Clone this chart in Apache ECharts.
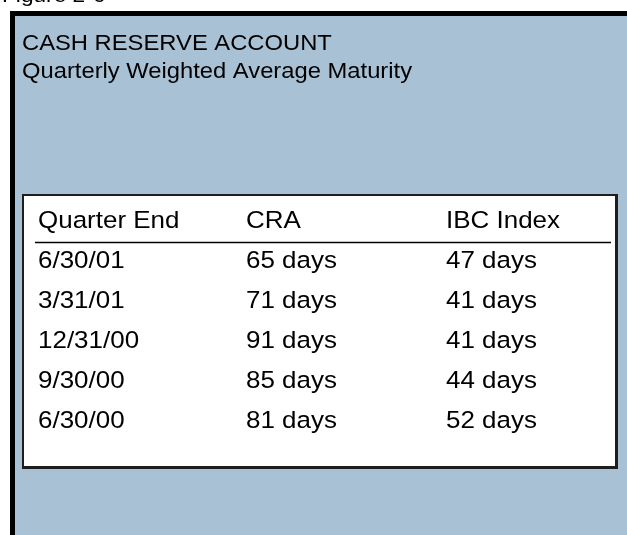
<!DOCTYPE html>
<html>
<head>
<meta charset="utf-8">
<script src="https://cdn.jsdelivr.net/npm/echarts@6.0.0/dist/echarts.min.js"></script>
<style>
  html, body { margin: 0; padding: 0; background: #fff; }
  #chart { width: 627px; height: 535px; }
</style>
</head>
<body>
<div id="chart"></div>
<script>
// table content
const headers = ['Quarter End', 'CRA', 'IBC Index'];
const quarters = ['6/30/01', '3/31/01', '12/31/00', '9/30/00', '6/30/00'];
const craDays = [65, 71, 91, 85, 81];
const ibcDays = [47, 41, 41, 44, 52];

const FONT = '"Liberation Sans", Arial, sans-serif';
const colShift = [0, 4, 0];

// build cells: [col, row, text]; row 0 is the header
const cells = [];
headers.forEach((h, c) => cells.push([c, 0, h]));
quarters.forEach((q, i) => {
  cells.push([0, i + 1, q]);
  cells.push([1, i + 1, craDays[i] + ' days']);
  cells.push([2, i + 1, ibcDays[i] + ' days']);
});

const chart = echarts.init(document.getElementById('chart'));

chart.setOption({
  animation: false,
  backgroundColor: '#ffffff',
  grid: { left: 38, top: 221, width: 408, height: 200 },
  xAxis: {
    type: 'category',
    data: headers,
    boundaryGap: false,
    show: false
  },
  yAxis: {
    type: 'value',
    min: 0,
    max: 5,
    inverse: true,
    show: false
  },
  graphic: {
    elements: [
      // outer black frame + blue panel
      { type: 'rect', z: 0, shape: { x: 10, y: 11, width: 640, height: 540 }, style: { fill: '#000' } },
      { type: 'rect', z: 0, shape: { x: 15, y: 16, width: 640, height: 540 }, style: { fill: '#a8c1d4' } },
      // table box
      { type: 'rect', z: 0, shape: { x: 22, y: 194, width: 596, height: 275 }, style: { fill: '#1e1e1e' } },
      { type: 'rect', z: 0, shape: { x: 24, y: 196, width: 591, height: 270 }, style: { fill: '#ffffff' } },
      // header underline
      { type: 'line', z: 1, shape: { x1: 35, y1: 242.5, x2: 611, y2: 242.5 }, style: { stroke: '#000', lineWidth: 1.3 } },
      // titles
      {
        type: 'text', z: 1, x: 2, y: -4, scaleX: 1.08,
        style: { text: 'Figure 2-6', font: '21px ' + FONT, fill: '#000', verticalAlign: 'middle' }
      },
      {
        type: 'text', z: 1, x: 22, y: 44, scaleX: 1.08,
        style: { text: 'CASH RESERVE ACCOUNT', font: '22px ' + FONT, fill: '#000', verticalAlign: 'middle' }
      },
      {
        type: 'text', z: 1, x: 22, y: 72, scaleX: 1.08,
        style: { text: 'Quarterly Weighted Average Maturity', font: '22px ' + FONT, fill: '#000', verticalAlign: 'middle' }
      }
    ]
  },
  series: [
    {
      type: 'custom',
      z: 10,
      data: cells,
      renderItem: function (params, api) {
        const col = api.value(0);
        const pt = api.coord([col, api.value(1)]);
        return {
          type: 'text',
          x: pt[0] + colShift[col],
          y: pt[1],
          scaleX: 1.06,
          style: {
            text: String(cells[params.dataIndex][2]),
            font: '24.5px ' + FONT,
            fill: '#000',
            align: 'left',
            verticalAlign: 'middle'
          }
        };
      }
    }
  ]
});
</script>
</body>
</html>
